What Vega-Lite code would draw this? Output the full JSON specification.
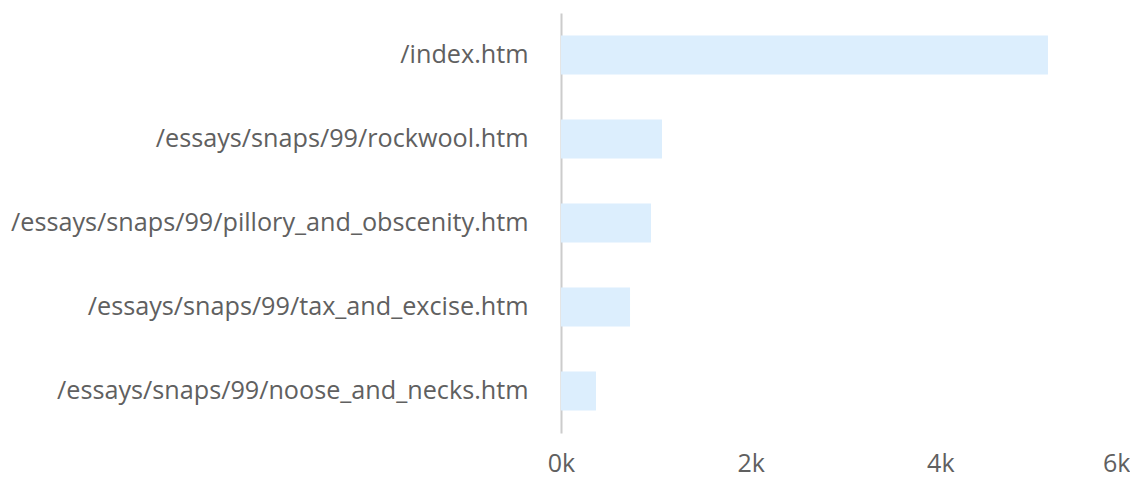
{
  "$schema": "https://vega.github.io/schema/vega-lite/v6.json",
  "autosize": "none",
  "padding": {"left": 561, "top": 13, "right": 0, "bottom": 44},
  "width": 569,
  "height": 420,
  "background": "white",
  "config": {"view": {"stroke": null}, "font": "Open Sans"},
  "data": {
    "values": [
      {"page": "/index.htm", "views": 5135},
      {"page": "/essays/snaps/99/rockwool.htm", "views": 1065},
      {"page": "/essays/snaps/99/pillory_and_obscenity.htm", "views": 949},
      {"page": "/essays/snaps/99/tax_and_excise.htm", "views": 728},
      {"page": "/essays/snaps/99/noose_and_necks.htm", "views": 369}
    ]
  },
  "mark": {"type": "bar", "color": "#dceefd"},
  "encoding": {
    "y": {
      "field": "page",
      "type": "nominal",
      "sort": null,
      "scale": {"paddingInner": 0.536, "paddingOuter": 0.268},
      "axis": {
        "title": null,
        "ticks": false,
        "domainColor": "#cccccc",
        "domainWidth": 2,
        "labelFont": "Open Sans",
        "labelFontSize": 25.2,
        "labelColor": "#606060",
        "labelPadding": 33,
        "labelLimit": 700
      }
    },
    "x": {
      "field": "views",
      "type": "quantitative",
      "scale": {"domain": [0, 6000], "nice": false},
      "axis": {
        "title": null,
        "values": [0, 2000, 4000, 6000],
        "labelExpr": "datum.value / 1000 + 'k'",
        "grid": false,
        "domain": false,
        "ticks": false,
        "labelFont": "Open Sans",
        "labelFontSize": 25,
        "labelColor": "#606060",
        "labelPadding": 18,
        "labelAlign": {"condition": {"test": "datum.value == 6000", "value": "right"}, "value": "center"}
      }
    }
  }
}
